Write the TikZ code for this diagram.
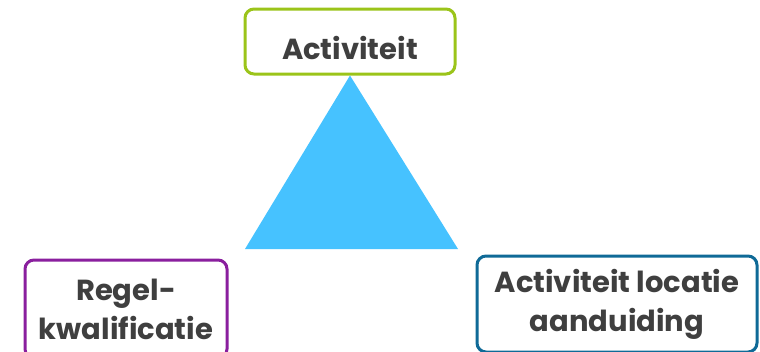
\documentclass[tikz,border=0pt]{standalone}
\usepackage{fontspec}
\setmainfont{Poppins}
\usetikzlibrary{positioning}
\definecolor{boxgreen}{HTML}{9BC41A}
\definecolor{boxpurple}{HTML}{8A1F9E}
\definecolor{boxblue}{HTML}{0F6A97}
\definecolor{tekst}{HTML}{3F3F3F}
\definecolor{driehoek}{HTML}{46C2FF}
\tikzset{
    kader/.style={draw=#1, line width=3pt, rounded corners=9pt, fill=white,
                  align=center, text=tekst, inner sep=0pt,
                  font=\fontsize{29}{39}\selectfont\bfseries}
}

\begin{document}
\begin{tikzpicture}[x=1pt, y=-1pt]
    \useasboundingbox (0,0) rectangle (760,351);

    \node[kader=boxgreen, minimum width=210pt, minimum height=65pt,
          text height=35pt, text depth=0pt] (act) at (350,41.5) {Activiteit};
    \fill[driehoek] (act.south) -- (245,249) -- (458,249) -- cycle;
    \node[kader=boxpurple, minimum width=202pt, minimum height=98pt] (regel) at (126,309) {Regel-\\kwalificatie};
    \node[kader=boxblue, minimum width=280pt, minimum height=96pt] (loc) at (617,304) {Activiteit locatie\\aanduiding};
\end{tikzpicture}
\end{document}
